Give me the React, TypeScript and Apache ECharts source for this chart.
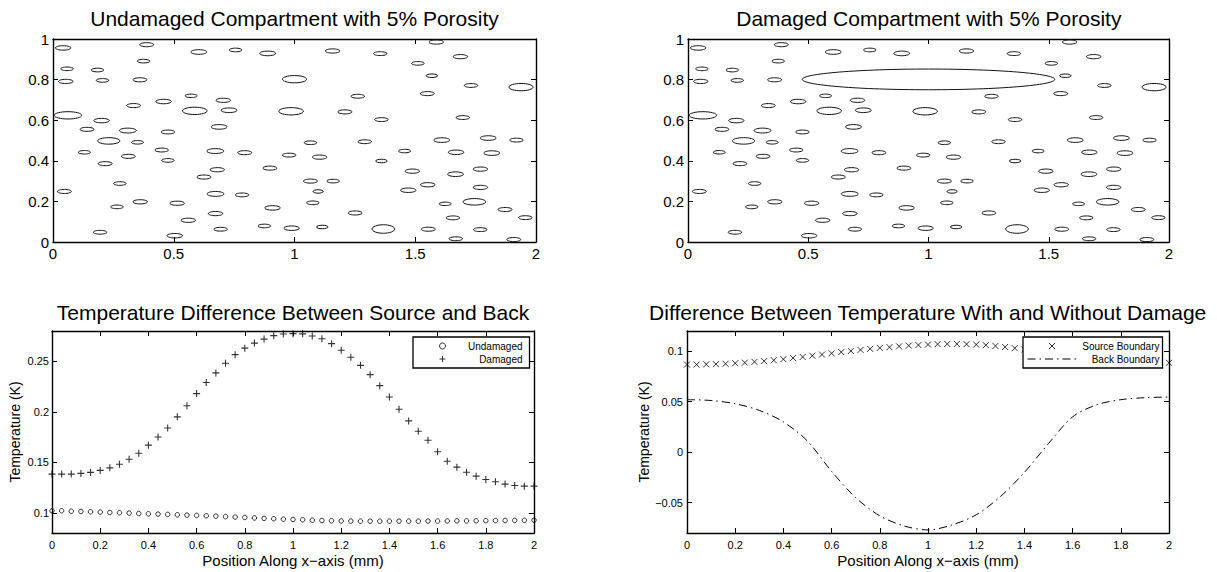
import React, { useEffect, useRef } from "react";
import * as echarts from "echarts";

const FONT = '"Liberation Sans", Arial, Helvetica, sans-serif';

const panelTitles = [
  "Undamaged Compartment with 5% Porosity",
  "Damaged Compartment with 5% Porosity",
  "Temperature Difference Between Source and Back",
  "Difference Between Temperature With and Without Damage",
];

// pores: [x (mm), y (mm), semi-axis x, semi-axis y]
const pores: number[][] = [
  [0.042, 0.956, 0.032, 0.011],
  [0.388, 0.972, 0.029, 0.01],
  [0.604, 0.936, 0.033, 0.0114],
  [0.756, 0.946, 0.026, 0.009],
  [0.889, 0.929, 0.033, 0.0114],
  [0.058, 0.853, 0.026, 0.009],
  [0.053, 0.791, 0.03, 0.0104],
  [0.184, 0.847, 0.026, 0.009],
  [0.205, 0.796, 0.026, 0.009],
  [0.375, 0.891, 0.026, 0.009],
  [0.36, 0.799, 0.029, 0.01],
  [1.0, 0.802, 0.05, 0.018],
  [0.062, 0.624, 0.057, 0.018],
  [0.201, 0.598, 0.032, 0.011],
  [0.141, 0.555, 0.029, 0.01],
  [0.231, 0.498, 0.046, 0.016],
  [0.31, 0.549, 0.035, 0.012],
  [0.334, 0.672, 0.029, 0.01],
  [0.35, 0.491, 0.025, 0.0086],
  [0.458, 0.692, 0.032, 0.011],
  [0.572, 0.72, 0.025, 0.0086],
  [0.587, 0.646, 0.051, 0.018],
  [0.705, 0.698, 0.03, 0.0104],
  [0.729, 0.649, 0.033, 0.0114],
  [0.688, 0.567, 0.033, 0.0114],
  [0.986, 0.644, 0.051, 0.018],
  [0.476, 0.542, 0.028, 0.0095],
  [0.13, 0.442, 0.025, 0.0086],
  [0.312, 0.422, 0.029, 0.01],
  [0.45, 0.453, 0.028, 0.0095],
  [0.476, 0.402, 0.026, 0.009],
  [0.216, 0.386, 0.029, 0.01],
  [0.672, 0.448, 0.035, 0.012],
  [0.794, 0.44, 0.029, 0.01],
  [0.978, 0.428, 0.028, 0.0095],
  [1.066, 0.489, 0.026, 0.009],
  [1.104, 0.418, 0.03, 0.0104],
  [0.68, 0.356, 0.03, 0.0104],
  [0.898, 0.364, 0.029, 0.01],
  [0.625, 0.32, 0.029, 0.01],
  [0.277, 0.288, 0.026, 0.009],
  [0.047, 0.249, 0.029, 0.01],
  [0.673, 0.237, 0.035, 0.012],
  [0.783, 0.232, 0.028, 0.0095],
  [1.066, 0.3, 0.029, 0.01],
  [1.16, 0.3, 0.026, 0.009],
  [1.098, 0.249, 0.021, 0.0086],
  [1.076, 0.193, 0.026, 0.009],
  [0.361, 0.198, 0.03, 0.0104],
  [0.265, 0.173, 0.026, 0.009],
  [0.514, 0.191, 0.03, 0.0104],
  [0.909, 0.168, 0.032, 0.011],
  [0.673, 0.14, 0.03, 0.0104],
  [0.56, 0.107, 0.03, 0.0104],
  [0.694, 0.063, 0.028, 0.0095],
  [0.875, 0.079, 0.026, 0.009],
  [0.988, 0.068, 0.032, 0.011],
  [1.115, 0.074, 0.024, 0.0086],
  [0.195, 0.048, 0.028, 0.0095],
  [0.504, 0.031, 0.032, 0.011],
  [1.158, 0.941, 0.03, 0.0104],
  [1.355, 0.928, 0.028, 0.0095],
  [1.511, 0.88, 0.026, 0.009],
  [1.587, 0.985, 0.03, 0.0104],
  [1.687, 0.913, 0.03, 0.0104],
  [1.569, 0.819, 0.024, 0.0086],
  [1.731, 0.771, 0.028, 0.0095],
  [1.938, 0.763, 0.05, 0.018],
  [1.262, 0.718, 0.028, 0.0095],
  [1.55, 0.731, 0.029, 0.01],
  [1.209, 0.641, 0.029, 0.01],
  [1.36, 0.603, 0.028, 0.0095],
  [1.697, 0.613, 0.028, 0.0095],
  [1.291, 0.494, 0.028, 0.0095],
  [1.61, 0.502, 0.033, 0.0114],
  [1.802, 0.512, 0.033, 0.0114],
  [1.919, 0.502, 0.028, 0.0095],
  [1.456, 0.448, 0.025, 0.0086],
  [1.669, 0.442, 0.032, 0.011],
  [1.817, 0.438, 0.033, 0.0114],
  [1.36, 0.399, 0.024, 0.0086],
  [1.488, 0.349, 0.03, 0.0104],
  [1.667, 0.334, 0.033, 0.0114],
  [1.77, 0.359, 0.03, 0.0104],
  [1.552, 0.282, 0.03, 0.0104],
  [1.471, 0.255, 0.032, 0.011],
  [1.77, 0.269, 0.03, 0.0104],
  [1.624, 0.188, 0.025, 0.0086],
  [1.745, 0.198, 0.047, 0.016],
  [1.251, 0.143, 0.029, 0.01],
  [1.872, 0.16, 0.029, 0.01],
  [1.956, 0.12, 0.028, 0.0095],
  [1.656, 0.119, 0.028, 0.0095],
  [1.368, 0.064, 0.047, 0.021],
  [1.554, 0.063, 0.029, 0.01],
  [1.769, 0.061, 0.028, 0.0095],
  [1.668, 0.016, 0.028, 0.0095],
  [1.908, 0.012, 0.029, 0.01],
];

// the damage: one large void that replaces the pore at index 11
const damageVoid = [1.0, 0.801, 0.525, 0.051];
const damageReplacesIndex = 11;

const positions = [
  0, 0.04, 0.08, 0.12, 0.16, 0.2, 0.24, 0.28, 0.32, 0.36, 0.4, 0.44, 0.48, 0.52, 0.56, 0.6, 0.64,
  0.68, 0.72, 0.76, 0.8, 0.84, 0.88, 0.92, 0.96, 1, 1.04, 1.08, 1.12, 1.16, 1.2, 1.24, 1.28, 1.32,
  1.36, 1.4, 1.44, 1.48, 1.52, 1.56, 1.6, 1.64, 1.68, 1.72, 1.76, 1.8, 1.84, 1.88, 1.92, 1.96, 2,
];

const undamagedDiff = [
  0.102, 0.102, 0.1016, 0.1013, 0.101, 0.1007, 0.1003, 0.1, 0.0997, 0.0993, 0.099, 0.0987, 0.0984,
  0.098, 0.0977, 0.0974, 0.097, 0.0967, 0.0962, 0.0958, 0.0954, 0.0949, 0.0945, 0.0941, 0.0937,
  0.0934, 0.0931, 0.0927, 0.0924, 0.0921, 0.0919, 0.0918, 0.0917, 0.0917, 0.0917, 0.0917, 0.0917,
  0.0917, 0.0917, 0.0918, 0.0918, 0.0919, 0.092, 0.092, 0.0921, 0.0922, 0.0923, 0.0924, 0.0925,
  0.0926, 0.0927,
];

const damagedDiff = [
  0.1383, 0.1383, 0.1383, 0.139, 0.14, 0.142, 0.1445, 0.148, 0.153, 0.159, 0.167, 0.175, 0.184,
  0.195, 0.206, 0.218, 0.229, 0.2385, 0.248, 0.2566, 0.263, 0.268, 0.272, 0.2754, 0.277, 0.2774,
  0.2772, 0.275, 0.2724, 0.2675, 0.2609, 0.254, 0.246, 0.2368, 0.2259, 0.2147, 0.2025, 0.191,
  0.1808, 0.1719, 0.1604, 0.1511, 0.1452, 0.1402, 0.1363, 0.133, 0.1307, 0.1284, 0.1271, 0.1264,
  0.1264,
];

const sourceBoundary = [
  0.0868, 0.0868, 0.087, 0.0872, 0.0876, 0.0881, 0.0887, 0.0894, 0.0902, 0.0911, 0.0921, 0.0932,
  0.0943, 0.0955, 0.0967, 0.0979, 0.0991, 0.1002, 0.1013, 0.1023, 0.1032, 0.104, 0.1048, 0.1055,
  0.1061, 0.1066, 0.107, 0.1072, 0.1072, 0.107, 0.1066, 0.106, 0.1052, 0.1042, 0.103, 0.1017,
  0.1004, 0.0991, 0.0977, 0.0964, 0.0952, 0.094, 0.0929, 0.0919, 0.0911, 0.0904, 0.0898, 0.0893,
  0.0889, 0.0887, 0.0885,
];

const backPositions = [
  0, 0.1, 0.2, 0.3, 0.4, 0.5, 0.6, 0.7, 0.8, 0.9, 1, 1.1, 1.2, 1.3, 1.4, 1.5, 1.6, 1.7, 1.8, 1.9, 2,
];
const backBoundary = [
  0.052, 0.0512, 0.048, 0.0414, 0.03, 0.011, -0.019, -0.045, -0.063, -0.073, -0.077, -0.072,
  -0.062, -0.044, -0.02, 0.0086, 0.035, 0.047, 0.052, 0.054, 0.0546,
];

const tempTicks = [0.1, 0.15, 0.2, 0.25];
const diffTicks = [-0.05, 0, 0.05, 0.1];

const PLUS = "path://M0,5L10,5M5,0L5,10";
const CROSS = "path://M0,0L10,10M10,0L0,10";
const BACK_DASH = [8, 4, 1.5, 4];

const axisLine = { show: true, onZero: false, lineStyle: { color: "#000", width: 1.4 } };
const axisTick = { show: true, inside: true, length: 5, lineStyle: { color: "#000", width: 1 } };
const noSplit = { show: false };

function pairX(grid: number, min: number, max: number, interval: number, label: any, extra: any = {}) {
  return [
    {
      type: "value", gridIndex: grid, position: "bottom", min, max, interval,
      axisLine, axisTick, splitLine: noSplit, axisLabel: label, ...extra,
    },
    {
      type: "value", gridIndex: grid, position: "top", min, max, interval,
      axisLine, axisTick, splitLine: noSplit, axisLabel: { show: false },
    },
  ];
}

function pairY(grid: number, min: number, max: number, interval: number | undefined, label: any, tickValues?: number[], extra: any = {}) {
  const tk: any = tickValues ? { ...axisTick, customValues: tickValues } : axisTick;
  const base: any = { type: "value", gridIndex: grid, min, max, splitLine: noSplit, axisLine, axisTick: tk };
  if (interval !== undefined) base.interval = interval;
  return [
    { ...base, position: "left", axisLabel: label, ...extra },
    { ...base, position: "right", axisLabel: { show: false } },
  ];
}

const ellipseItem = (params: any, api: any) => {
  const c = api.coord([api.value(0), api.value(1)]);
  const s = api.size([api.value(2), api.value(3)]);
  return {
    type: "ellipse",
    shape: { cx: c[0], cy: c[1], rx: Math.abs(s[0]), ry: Math.abs(s[1]) },
    style: { fill: "none", stroke: "#111", lineWidth: 1 },
  };
};

export default function App() {
  const ref = useRef<HTMLDivElement>(null);
  useEffect(() => {
    document.body.style.margin = "0";
    const chart = echarts.init(ref.current!, null, { renderer: "svg" });
    const bigLabel = { color: "#000", fontSize: 15, margin: 4, fontFamily: FONT };
    const smallLabelX = { color: "#000", fontSize: 11, margin: 6, fontFamily: FONT };
    const xName = {
      name: "Position Along x\u2212axis (mm)",
      nameLocation: "middle",
      nameGap: 20,
      nameTextStyle: { color: "#000", fontSize: 15, fontFamily: FONT },
    };
    const yName = (gap: number) => ({
      name: "Temperature (K)",
      nameLocation: "middle",
      nameGap: gap,
      nameTextStyle: { color: "#000", fontSize: 14, fontFamily: FONT },
    });
    const damagedPores = pores.map((p, i) => (i === damageReplacesIndex ? damageVoid : p));
    const titleX = [294.5, 928.8, 293, 927.7];
    const titleY = [8, 8, 302, 302];

    const markerLegendStyle = { color: "transparent", borderColor: "#000", borderWidth: 1 };

    const legendCommon = {
      orient: "vertical",
      top: 337,
      itemHeight: 6,
      itemGap: 3,
      backgroundColor: "#fff",
      borderColor: "#000",
      borderWidth: 1.3,
      borderRadius: 0,
      z: 10,
      selectedMode: false,
      itemStyle: { borderWidth: 1 },
      formatter: (n: string) => `{t|${n}}`,
    };

    chart.setOption({
      animation: false,
      backgroundColor: "#fff",
      textStyle: { fontFamily: FONT },
      title: panelTitles.map((t, i) => ({
        text: t,
        left: titleX[i],
        top: titleY[i],
        textAlign: "center",
        padding: 0,
        textStyle: { fontSize: 21, fontWeight: "normal", color: "#000", fontFamily: FONT },
      })),
      legend: [
        {
          ...legendCommon,
          data: [
            { name: "Undamaged", icon: "circle", itemStyle: markerLegendStyle },
            { name: "Damaged", icon: PLUS, itemStyle: markerLegendStyle },
          ],
          left: 413,
          padding: [4, 7, 4, 26],
          itemWidth: 42,
          textStyle: { fontSize: 10, rich: { t: { width: 54, align: "right", fontSize: 10, color: "#000", fontFamily: FONT } } },
        },
        {
          ...legendCommon,
          data: [
            { name: "Source Boundary", icon: CROSS, itemStyle: markerLegendStyle },
            {
              name: "Back Boundary",
              icon: "line",
              itemStyle: { color: "#000", borderColor: "#000", borderWidth: 1, borderType: BACK_DASH },
            },
          ],
          left: 1023,
          padding: [4, 3, 4, 4],
          itemWidth: 49,
          textStyle: { fontSize: 10, rich: { t: { width: 78, align: "right", fontSize: 10, color: "#000", fontFamily: FONT } } },
        },
      ],
      grid: [
        { left: 53, top: 39, width: 483, height: 203 },
        { left: 688, top: 39, width: 481, height: 203 },
        { left: 52, top: 331, width: 482, height: 202 },
        { left: 687, top: 331, width: 482, height: 202 },
      ],
      xAxis: [
        ...pairX(0, 0, 2, 0.5, bigLabel),
        ...pairX(1, 0, 2, 0.5, bigLabel),
        ...pairX(2, 0, 2, 0.2, smallLabelX, xName),
        ...pairX(3, 0, 2, 0.2, smallLabelX, xName),
      ],
      yAxis: [
        ...pairY(0, 0, 1, 0.2, bigLabel),
        ...pairY(1, 0, 1, 0.2, bigLabel),
        ...pairY(
          2, 0.08, 0.28, undefined,
          { color: "#000", fontSize: 11, margin: 3, fontFamily: FONT, customValues: tempTicks },
          tempTicks, yName(30)
        ),
        ...pairY(
          3, -0.08, 0.12, undefined,
          {
            color: "#000", fontSize: 11, margin: 4, fontFamily: FONT, customValues: diffTicks,
            formatter: (v: number) => String(v).replace("-", "\u2212"),
          },
          diffTicks, yName(32)
        ),
      ],
      series: [
        {
          type: "custom",
          name: "Undamaged pores",
          xAxisIndex: 0,
          yAxisIndex: 0,
          clip: true,
          silent: true,
          encode: { x: 0, y: 1 },
          renderItem: ellipseItem,
          data: pores,
        },
        {
          type: "custom",
          name: "Damaged pores",
          xAxisIndex: 2,
          yAxisIndex: 2,
          clip: true,
          silent: true,
          encode: { x: 0, y: 1 },
          renderItem: ellipseItem,
          data: damagedPores,
        },
        {
          type: "scatter",
          name: "Undamaged",
          xAxisIndex: 4,
          yAxisIndex: 4,
          clip: false,
          silent: true,
          symbol: "circle",
          symbolSize: 4.5,
          itemStyle: { color: "transparent", borderColor: "#000", borderWidth: 1 },
          data: positions.map((x, i) => [x, undamagedDiff[i]]),
        },
        {
          type: "scatter",
          name: "Damaged",
          xAxisIndex: 4,
          yAxisIndex: 4,
          clip: false,
          silent: true,
          symbol: PLUS,
          symbolSize: 7,
          itemStyle: { color: "transparent", borderColor: "#000", borderWidth: 1.1 },
          data: positions.map((x, i) => [x, damagedDiff[i]]),
        },
        {
          type: "scatter",
          name: "Source Boundary",
          xAxisIndex: 6,
          yAxisIndex: 6,
          clip: false,
          silent: true,
          symbol: CROSS,
          symbolSize: 6,
          itemStyle: { color: "transparent", borderColor: "#000", borderWidth: 1 },
          data: positions.map((x, i) => [x, sourceBoundary[i]]),
        },
        {
          type: "line",
          name: "Back Boundary",
          xAxisIndex: 6,
          yAxisIndex: 6,
          silent: true,
          symbol: "none",
          smooth: 0.3,
          itemStyle: { color: "#000" },
          lineStyle: { color: "#000", width: 1, type: BACK_DASH },
          data: backPositions.map((x, i) => [x, backBoundary[i]]),
        },
      ],
    });
    return () => chart.dispose();
  }, []);
  return <div ref={ref} style={{ width: 1217, height: 572 }} />;
}
